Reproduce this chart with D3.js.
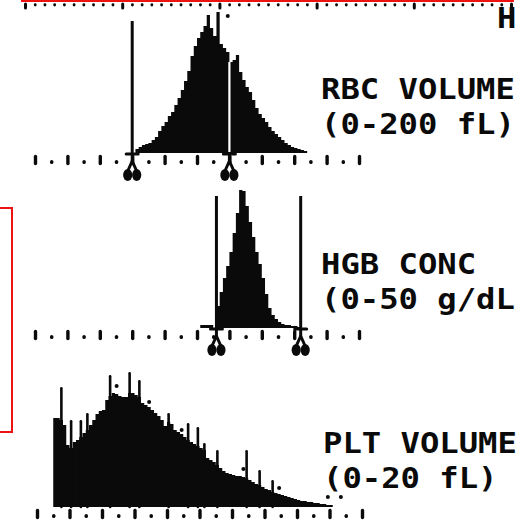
<!DOCTYPE html>
<html>
<head>
<meta charset="utf-8">
<script src="https://cdn.jsdelivr.net/npm/d3@7"></script>
<style>
  body { margin: 0; background: #fff; }
  svg { display: block; }
  .label { font-family: "DejaVu Sans Mono", monospace; font-weight: bold; font-size: 28px; fill: #0a0a0a; }
</style>
</head>
<body>
<div id="chart"></div>
<script>
// counts per channel, 100 channels across each range
var rbcFirst = 31;
var rbcCounts = [4, 6, 8, 9, 10, 13, 16, 22, 27, 31,
  37, 41, 48, 55, 63, 72, 82, 97, 107, 115,
  121, 127, 138, 125, 117, 141, 109, 105, 101, 91,
  93, 98, 81, 73, 66, 61, 53, 45, 39, 35,
  31, 26, 22, 19, 16, 13, 10, 8, 6, 5,
  4, 3, 2];
var rbcThresholds = [60, 120];
var rbcDots = [[59, 137]];

var hgbFirst = 51;
var hgbCounts = [3, 3, 3, 3, 0,
  22, 36, 50, 62, 76,
  95, 115, 138, 137, 122,
  106, 91, 76, 64, 50,
  34, 20, 13, 9, 6,
  4, 3, 3, 2, 2,
  1];
var hgbThresholds = [28, 41];

var pltFirst = 5;
var pltCounts = [89, 89, 87, 82, 62,
  59, 65, 67, 70, 74,
  77, 82, 87, 93, 96,
  97, 107, 111, 114, 113,
  111, 110, 110, 114, 114,
  112, 110, 104, 102, 100,
  97, 94, 91, 87, 81,
  85, 83, 77, 75, 73,
  70, 67, 65, 63, 61,
  59, 57, 49, 47, 45,
  42, 39, 36, 34, 33,
  32, 31, 31, 30, 29,
  27, 25, 23, 22, 20,
  18, 17, 15, 14, 13,
  12, 11, 10, 9, 8,
  7, 6, 6, 5, 5,
  4, 4, 3, 3, 2,
  2];
var pltSpikes = [[7, 120], [10, 87], [13, 87], [15, 94], [22, 132], [28, 135], [31, 127],
  [40, 94], [46, 84], [49, 80], [51, 64], [55, 57], [64, 57], [68, 37], [72, 27]];
var pltDots = [[24, 121], [34, 105], [44, 77], [63, 38], [74, 19], [89, 10], [93, 10]];

var panelNames = ["RBC VOLUME", "HGB CONC", "PLT VOLUME"];
var panelRanges = ["(0-200 fL)", "(0-50 g/dL)", "(0-20 fL)"];
var panelMax = [200, 50, 20];

var width = 516;
var height = 525;
var channels = 100;
var ink = "#0a0a0a";
var red = "#ee1111";

var panels = [
  { counts: rbcCounts, first: rbcFirst, thresholds: rbcThresholds, spikes: [], dots: rbcDots, base: 153, x0: 35, x1: 359 },
  { counts: hgbCounts, first: hgbFirst, thresholds: hgbThresholds, spikes: [], dots: [], base: 328, x0: 35, x1: 359 },
  { counts: pltCounts, first: pltFirst, thresholds: [], spikes: pltSpikes, dots: pltDots, base: 507, x0: 37, x1: 362 }
];
panels.forEach(function (p, i) {
  p.name = panelNames[i];
  p.range = panelRanges[i];
  p.max = panelMax[i];
});

var svg = d3.select("#chart").append("svg")
  .attr("width", width)
  .attr("height", height);

svg.append("rect").attr("width", width).attr("height", height).attr("fill", "#fff");

/* tail of the panel above, cut by the page */
var topX = d3.scaleLinear().domain([0, 50]).range([25, 511]);
svg.append("g").attr("transform", "translate(0,2)")
  .call(d3.axisBottom(topX).tickValues(d3.range(0, 51, 10)).tickSize(6).tickFormat(""))
  .call(function (g) { g.select(".domain").remove(); })
  .selectAll("line").attr("y1", 2).attr("stroke", ink).attr("stroke-width", 3).attr("stroke-linecap", "round");
svg.append("g").attr("transform", "translate(0,2)")
  .call(d3.axisBottom(topX).tickValues(d3.range(0, 51).filter(function (v) { return v % 10; })).tickSize(3).tickFormat(""))
  .call(function (g) { g.select(".domain").remove(); })
  .selectAll("line").attr("y1", 2.6).attr("stroke", ink).attr("stroke-width", 2.8).attr("stroke-linecap", "round");

svg.append("text").attr("class", "label")
  .attr("transform", "translate(497,28) scale(1.15,1)")
  .text("HGB");

panels.forEach(function (p) {
  var x = d3.scaleLinear().domain([0, p.max]).range([p.x0, p.x1]);
  var y = d3.scaleLinear().domain([0, 140]).range([p.base, p.base - 140]);
  var step = p.max / channels;
  var g = svg.append("g");

  var bins = p.counts.map(function (c, k) {
    return { lo: (p.first + k) * step, count: c };
  });
  bins.push({ lo: (p.first + p.counts.length) * step, count: 0 });
  var countAt = function (ch) {
    var k = ch - p.first;
    return k >= 0 && k < p.counts.length ? p.counts[k] : 0;
  };

  /* histogram */
  var area = d3.area()
    .curve(d3.curveStepAfter)
    .x(function (d) { return x(d.lo); })
    .y0(y(0))
    .y1(function (d) { return y(d.count); });

  g.append("path")
    .datum(bins)
    .attr("d", area)
    .attr("fill", ink);

  g.selectAll(".spike")
    .data(p.spikes)
    .enter()
    .append("line")
    .attr("x1", function (d) { return x((d[0] + 0.5) * step); })
    .attr("x2", function (d) { return x((d[0] + 0.5) * step); })
    .attr("y1", function (d) { return y(d[1]) + 1.3; })
    .attr("y2", y(0))
    .attr("stroke", ink)
    .attr("stroke-width", 2.6)
    .attr("stroke-linecap", "round");

  g.selectAll(".dot")
    .data(p.dots)
    .enter()
    .append("circle")
    .attr("cx", function (d) { return x((d[0] + 0.5) * step); })
    .attr("cy", function (d) { return y(d[1]); })
    .attr("r", 2)
    .attr("fill", ink);

  /* tick row */
  var majors = d3.range(0, 11).map(function (k) { return k * p.max / 10; });
  var minors = d3.range(0, 10).map(function (k) { return (k + 0.5) * p.max / 10; });
  g.append("g")
    .attr("transform", "translate(0," + p.base + ")")
    .call(d3.axisBottom(x).tickValues(majors).tickSize(10.5).tickFormat(""))
    .call(function (a) { a.select(".domain").remove(); })
    .selectAll("line")
    .attr("y1", 3.5)
    .attr("stroke", ink)
    .attr("stroke-width", 3.4)
    .attr("stroke-linecap", "round");
  g.append("g")
    .attr("transform", "translate(0," + p.base + ")")
    .call(d3.axisBottom(x).tickValues(minors).tickSize(9.4).tickFormat(""))
    .call(function (a) { a.select(".domain").remove(); })
    .selectAll("line")
    .attr("y1", 8.6)
    .attr("stroke", ink)
    .attr("stroke-width", 3.4)
    .attr("stroke-linecap", "round");

  /* discriminators */
  p.thresholds.forEach(function (t) {
    var ch = Math.round(t / step);
    var left = countAt(ch - 1);
    var right = countAt(ch);
    var xt = x(t);
    if (left > 0 && right > 0) {
      g.append("line")
        .attr("x1", xt).attr("x2", xt)
        .attr("y1", y(Math.min(left, right)))
        .attr("y2", y(0) - 1)
        .attr("stroke", "#fff")
        .attr("stroke-width", 2.2);
    } else {
      g.append("line")
        .attr("x1", xt).attr("x2", xt)
        .attr("y1", y(132))
        .attr("y2", y(0))
        .attr("stroke", ink)
        .attr("stroke-width", 3);
    }
    var m = g.append("g").attr("transform", "translate(" + xt + "," + p.base + ")");
    m.append("line").attr("x1", -6).attr("x2", 6).attr("y1", 1).attr("y2", 1)
      .attr("stroke", ink).attr("stroke-width", 3).attr("stroke-linecap", "round");
    m.append("line").attr("x1", 0).attr("x2", 0).attr("y1", 0).attr("y2", 10)
      .attr("stroke", ink).attr("stroke-width", 3);
    m.append("path").attr("d", "M0,8L-4,17M0,8L4,17")
      .attr("fill", "none").attr("stroke", ink).attr("stroke-width", 3).attr("stroke-linecap", "round");
    [-4.5, 4.5].forEach(function (dx) {
      m.append("ellipse").attr("cx", dx).attr("cy", 22).attr("rx", 4.6).attr("ry", 6).attr("fill", ink);
    });
  });

  /* labels */
  g.append("text").attr("class", "label")
    .attr("transform", "translate(" + (321 + p.x0 - 35) + "," + (p.base - 54) + ") scale(1.15,1)")
    .text(p.name);
  g.append("text").attr("class", "label")
    .attr("transform", "translate(" + (321 + p.x0 - 35) + "," + (p.base - 19) + ") scale(1.15,1)")
    .text(p.range);
});

/* red markup boxes on the scan */
svg.append("rect")
  .attr("x", 22).attr("y", -10).attr("width", 491).attr("height", 11)
  .attr("fill", "none").attr("stroke", red).attr("stroke-width", 2);
svg.append("rect")
  .attr("x", -10).attr("y", 208).attr("width", 22).attr("height", 224)
  .attr("fill", "none").attr("stroke", red).attr("stroke-width", 2);
</script>
</body>
</html>
